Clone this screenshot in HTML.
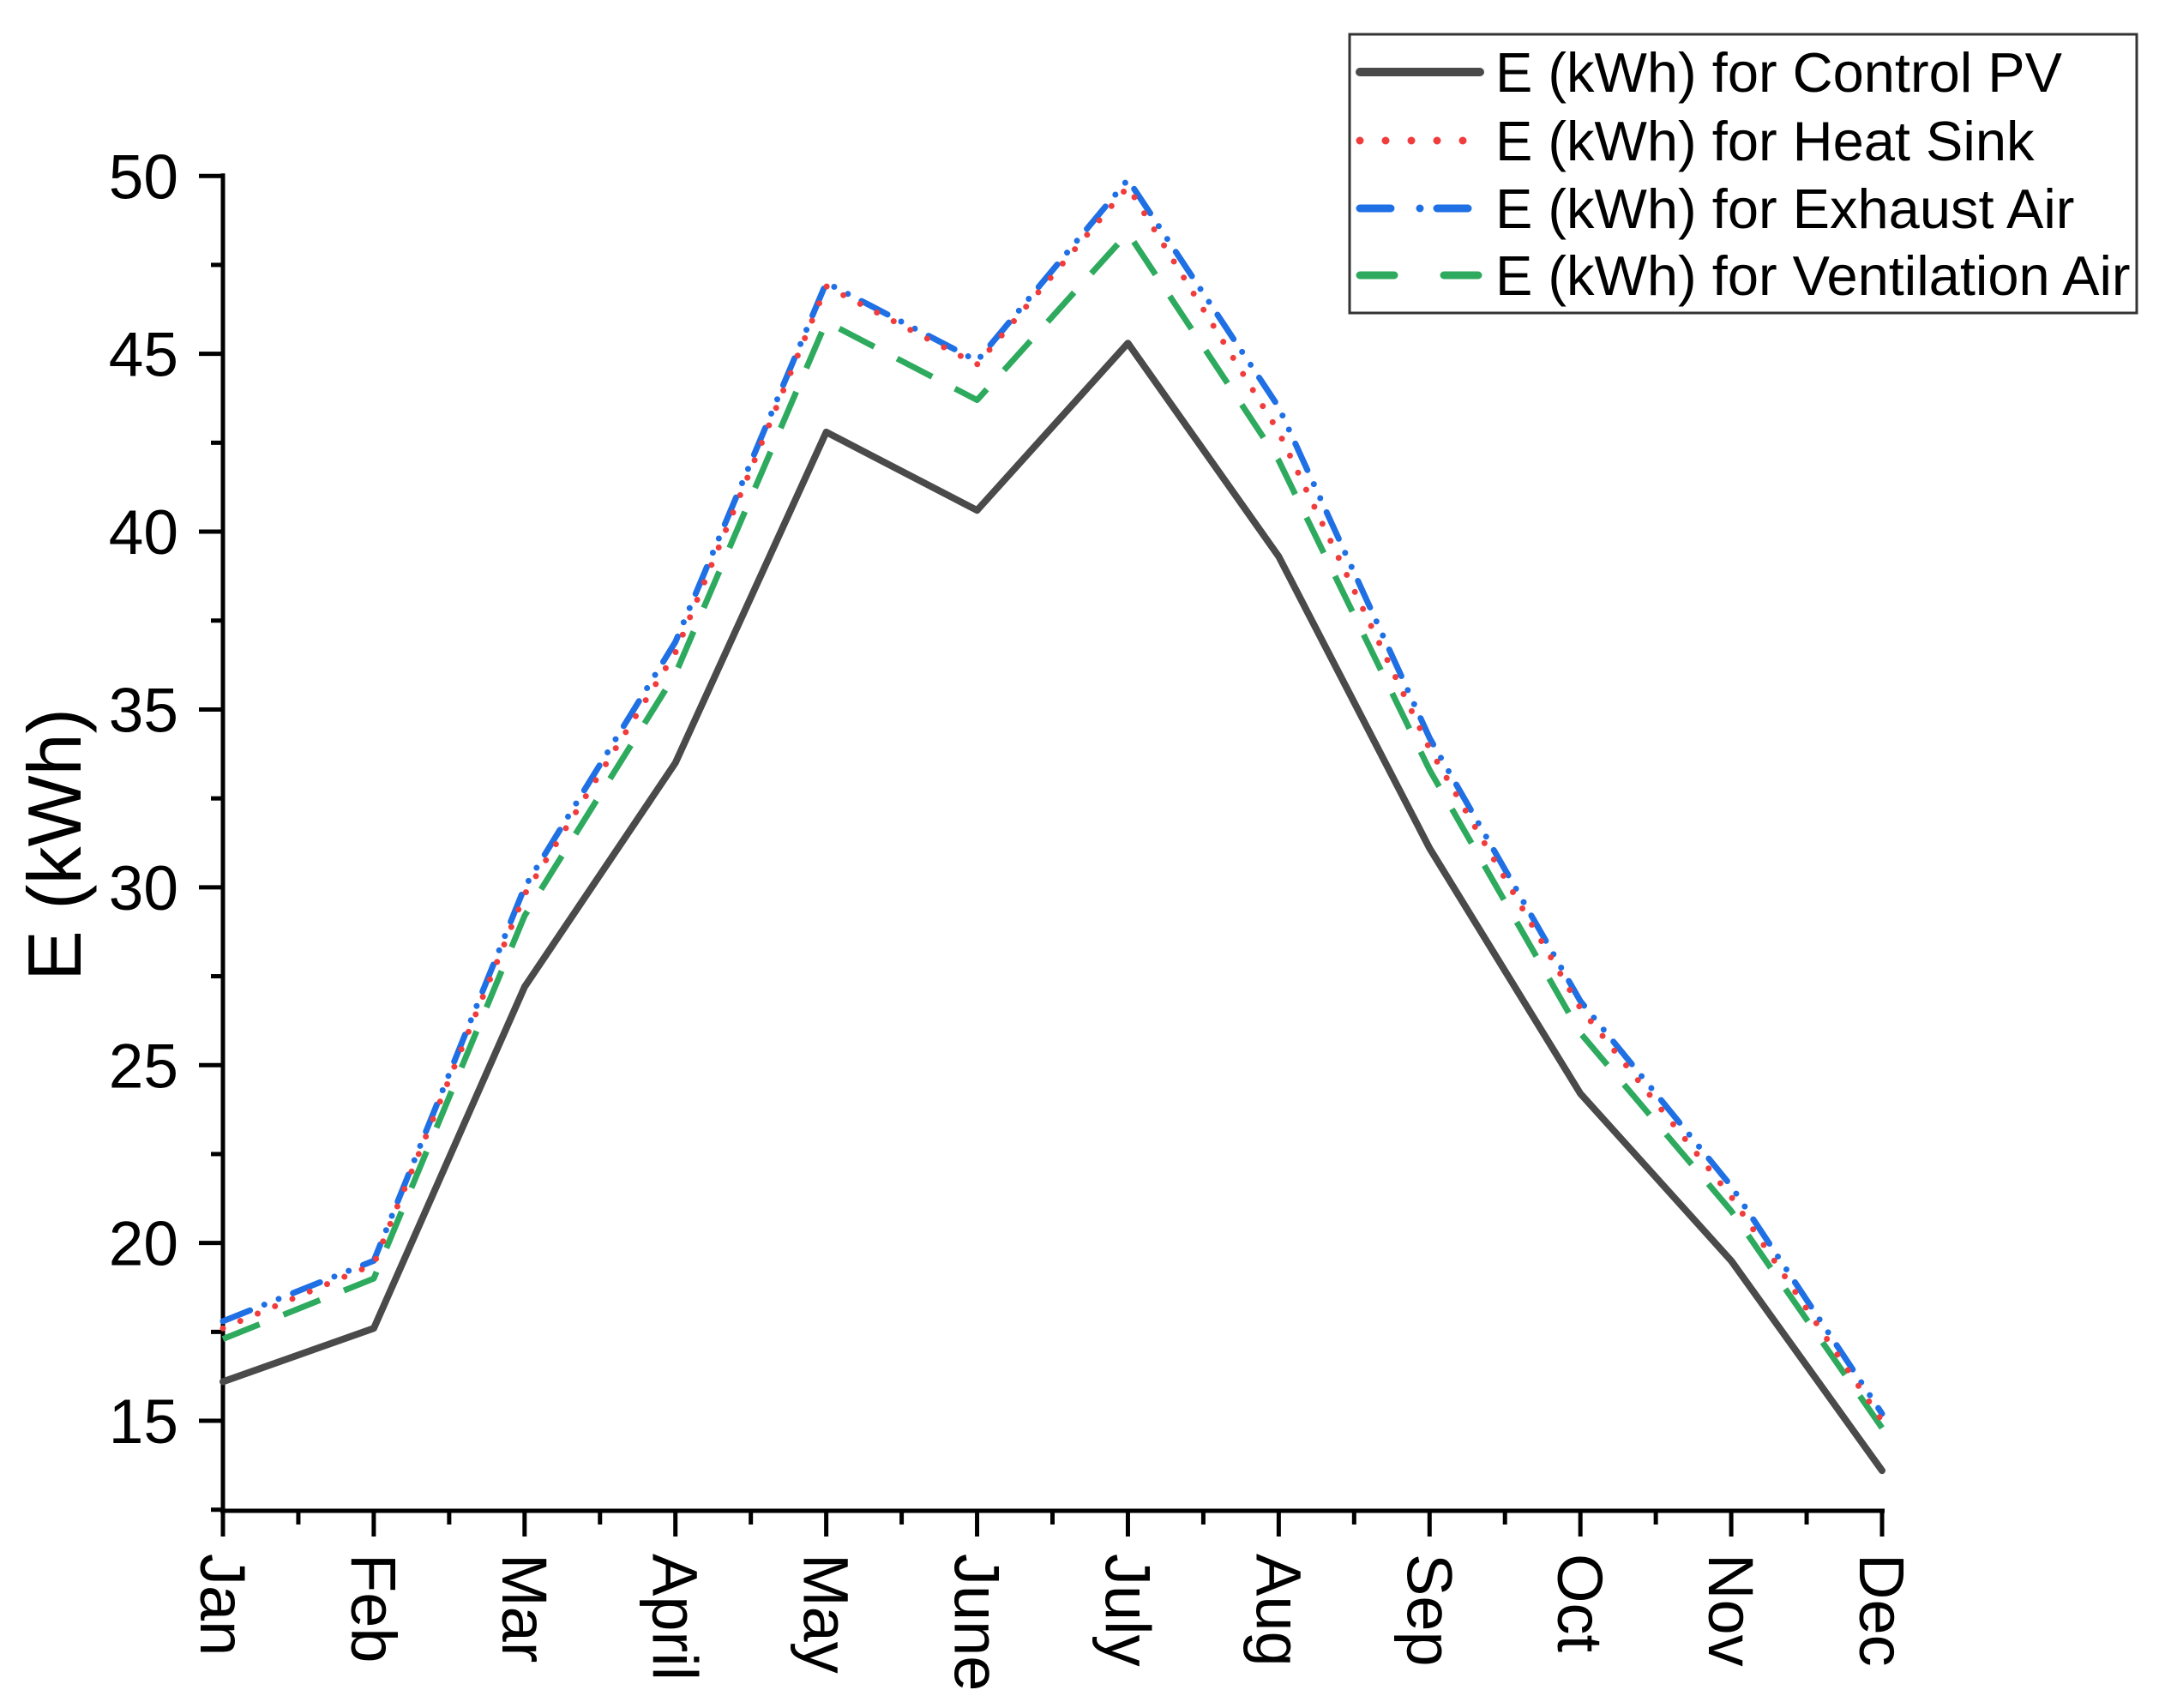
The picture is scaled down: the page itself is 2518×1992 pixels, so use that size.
<!DOCTYPE html>
<html><head><meta charset="utf-8"><style>
html,body{margin:0;padding:0;background:#fff;}
svg{display:block;font-family:"Liberation Sans",Arial,sans-serif;}
</style></head><body>
<svg id="chart" width="2518" height="1992" viewBox="0 0 2518 1992">
<g id="axes"></g><g id="series"></g><g id="legend"></g>
</svg>
<script>
const months = ["Jan","Feb","Mar","April","May","June","July","Aug","Sep","Oct","Nov","Dec"];
const controlPV = [16.1,17.6,27.2,33.5,42.8,40.6,45.3,39.3,31.1,24.2,19.5,13.6];
const heatSink = [17.6,19.4,29.8,36.6,46.9,44.7,49.7,42.8,33.9,26.6,21.3,15.0];
const exhaustAir = [17.8,19.5,30.0,36.9,47.0,44.8,49.9,43.5,34.2,26.8,21.6,15.2];
const ventilationAir = [17.3,19.0,29.2,36.0,45.9,43.7,48.4,42.0,33.3,25.9,20.9,14.8];
const yTicks = [15,20,25,30,35,40,45,50];
const seriesNames = ["E (kWh) for Control PV","E (kWh) for Heat Sink","E (kWh) for Exhaust Air","E (kWh) for Ventilation Air"];

const NS="http://www.w3.org/2000/svg";
const X0=260, X1=2195, Y0=1762, YMIN=12.47, PXU=41.48;
const xs=i=>X0+i*(X1-X0)/(months.length-1);
const ys=v=>Y0-(v-YMIN)*PXU;
function mk(tag,attrs,parent){const e=document.createElementNS(NS,tag);for(const k in attrs)e.setAttribute(k,attrs[k]);parent.appendChild(e);return e;}
const axes=document.getElementById('axes'), ser=document.getElementById('series'), leg=document.getElementById('legend');

const ya=mk('line',{x1:X0,y1:ys(50)-3,x2:X0,y2:Y0+4,stroke:'#000','stroke-width':5},axes);


const xa=mk('line',{x1:X0-3,y1:Y0,x2:X1+3,y2:Y0,stroke:'#000','stroke-width':5},axes);



yTicks.forEach(v=>{
  const y=ys(v);
  const t=mk('line',{x1:X0-28,y1:y,x2:X0,y2:y,stroke:'#000','stroke-width':5},axes);
  
  
  if(v<50){
    const m=mk('line',{x1:X0-14,y1:y-PXU*2.5,x2:X0,y2:y-PXU*2.5,stroke:'#000','stroke-width':5},axes);
    
    
  }
  const l=mk('text',{x:X0-52,y:y+26,'font-size':73,'text-anchor':'end',fill:'#000'},axes);
  l.textContent=v;
  
  
});
{const m=mk('line',{x1:X0-14,y1:ys(15)+PXU*2.5,x2:X0,y2:ys(15)+PXU*2.5,stroke:'#000','stroke-width':5},axes);

}

months.forEach((mo,i)=>{
  const x=xs(i);
  const t=mk('line',{x1:x,y1:Y0,x2:x,y2:Y0+30,stroke:'#000','stroke-width':5},axes);
  
  
  if(i<months.length-1){
    const m=mk('line',{x1:x+(X1-X0)/22,y1:Y0,x2:x+(X1-X0)/22,y2:Y0+16,stroke:'#000','stroke-width':5},axes);
    
    
  }
  const l=mk('text',{x:0,y:0,'font-size':74,'text-anchor':'start',fill:'#000',transform:`translate(${x-26},1812) rotate(90)`},axes);
  l.textContent=mo;
  
  
});
const yt=mk('text',{x:0,y:0,'font-size':88,'text-anchor':'middle',fill:'#000',transform:'translate(94,985) rotate(-90)'},axes);
yt.textContent='E (kWh)';



const styles=[
  {c:'#4a4a4a',w:8,d:'',cap:'round'},
  {c:'#f03c3c',w:7,d:'0 22',cap:'round'},
  {c:'#1f6fe5',w:7,d:'34 18 0 18 0 18',cap:'round'},
  {c:'#2eaa5e',w:7,d:'46 30',cap:'butt'}];
const data=[controlPV,heatSink,exhaustAir,ventilationAir];
const names=['series-control-pv','series-heat-sink','series-exhaust-air','series-ventilation-air'];
[3,2,1,0].forEach(k=>{
  const s=styles[k];
  const p=mk('polyline',{points:data[k].map((v,i)=>xs(i)+','+ys(v)).join(' '),fill:'none',stroke:s.c,'stroke-width':s.w,'stroke-dasharray':s.d,'stroke-linecap':s.cap,'stroke-linejoin':'round'},ser);
  
  
});

const box=mk('rect',{x:1574,y:40,width:918,height:325,fill:'#fff',stroke:'#333','stroke-width':3},leg);


const rowsY=[84,164,243,321];
seriesNames.forEach((n,k)=>{
  const s=styles[k];
  const g=mk('g',{},leg);
  
  
  mk('line',{x1:1586,y1:rowsY[k],x2:1726,y2:rowsY[k],stroke:s.c,'stroke-width':k==0?10:9,'stroke-dasharray':k==1?'0 30':(k==2?'36 34 0 20':(k==3?'40 58':'')),'stroke-linecap':'round'},g);
  const t=mk('text',{x:1744,y:rowsY[k]+23,'font-size':65,fill:'#000'},g);
  t.textContent=n;
});
</script>
</body></html>
